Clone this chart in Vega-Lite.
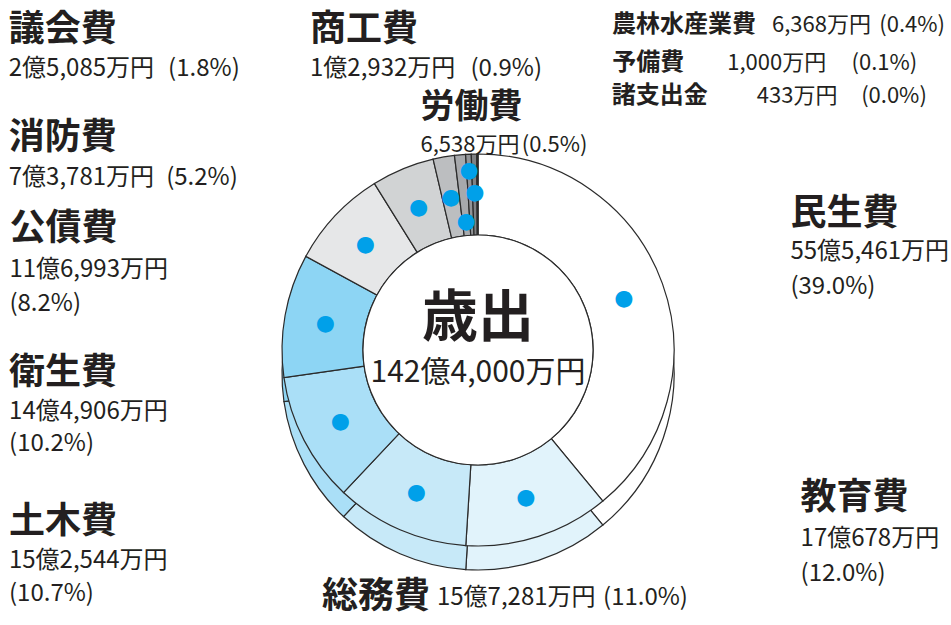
{
  "$schema": "https://vega.github.io/schema/vega-lite/v6.json",
  "width": 946,
  "height": 550,
  "autosize": {"type": "none"},
  "padding": {"left": 5, "top": 75, "right": 0, "bottom": 0},
  "background": "#ffffff",
  "config": {"view": {"stroke": null}, "text": {"font": "Noto Sans CJK JP", "color": "#231f20"}},
  "data": {"values": [
    {"idx": 1, "name": "民生費", "value": 555461, "amount": "55億5,461万円", "pct": "(39.0%)"},
    {"idx": 2, "name": "教育費", "value": 170678, "amount": "17億678万円", "pct": "(12.0%)"},
    {"idx": 3, "name": "総務費", "value": 157281, "amount": "15億7,281万円", "pct": "(11.0%)"},
    {"idx": 4, "name": "土木費", "value": 152544, "amount": "15億2,544万円", "pct": "(10.7%)"},
    {"idx": 5, "name": "衛生費", "value": 144906, "amount": "14億4,906万円", "pct": "(10.2%)"},
    {"idx": 6, "name": "公債費", "value": 116993, "amount": "11億6,993万円", "pct": "(8.2%)"},
    {"idx": 7, "name": "消防費", "value": 73781, "amount": "7億3,781万円", "pct": "(5.2%)"},
    {"idx": 8, "name": "議会費", "value": 25085, "amount": "2億5,085万円", "pct": "(1.8%)"},
    {"idx": 9, "name": "商工費", "value": 12932, "amount": "1億2,932万円", "pct": "(0.9%)"},
    {"idx": 10, "name": "労働費", "value": 6538, "amount": "6,538万円", "pct": "(0.5%)"},
    {"idx": 11, "name": "農林水産業費", "value": 6368, "amount": "6,368万円", "pct": "(0.4%)"},
    {"idx": 12, "name": "予備費", "value": 1000, "amount": "1,000万円", "pct": "(0.1%)"},
    {"idx": 13, "name": "諸支出金", "value": 433, "amount": "433万円", "pct": "(0.0%)"}
  ]},
  "encoding": {
    "theta": {"field": "value", "type": "quantitative", "stack": true},
    "order": {"field": "idx", "type": "quantitative"}
  },
  "layer": [
    {"mark": {"type": "arc", "outerRadius": 196, "innerRadius": 115, "yOffset": 24, "stroke": "#2b2b2b", "strokeWidth": 1.2},
     "encoding": {"color": {"field": "name", "type": "nominal", "legend": null,
       "scale": {"domain": ["民生費","教育費","総務費","土木費","衛生費","公債費","消防費","議会費","商工費","労働費","農林水産業費","予備費","諸支出金"],
                 "range": ["#ffffff","#e1f3fb","#c7e9f8","#aadff7","#8dd5f4","#e6e7e8","#d1d3d4","#bcbec0","#a7a9ac","#939598","#808285","#6d6e71","#58595b"]}}}},
    {"mark": {"type": "arc", "outerRadius": 196, "innerRadius": 115, "stroke": "#2b2b2b", "strokeWidth": 1.2},
     "encoding": {"color": {"field": "name", "type": "nominal", "legend": null}}},
    {"transform": [{"aggregate": [{"op": "sum", "field": "value", "as": "value"}, {"op": "min", "field": "idx", "as": "idx"}]}],
     "mark": {"type": "arc", "outerRadius": 115, "innerRadius": 0, "fill": "#ffffff", "stroke": "#2b2b2b", "strokeWidth": 1.2}},

    {"mark": {"type": "text", "radius": 155, "align": "center", "baseline": "middle", "font": "DejaVu Sans", "fontSize": 22, "color": "#00a0e9"},
     "encoding": {"text": {"condition": {"test": "datum.idx <= 8", "value": "●"}, "value": ""}}},
    {"mark": {"type": "text", "radius": 130, "align": "center", "baseline": "middle", "font": "DejaVu Sans", "fontSize": 22, "color": "#00a0e9"},
     "encoding": {"text": {"condition": {"test": "datum.idx === 9", "value": "●"}, "value": ""}}},
    {"mark": {"type": "text", "radius": 180, "align": "center", "baseline": "middle", "font": "DejaVu Sans", "fontSize": 22, "color": "#00a0e9"},
     "encoding": {"text": {"condition": {"test": "datum.idx === 10", "value": "●"}, "value": ""}}},
    {"mark": {"type": "text", "radius": 158, "align": "center", "baseline": "middle", "font": "DejaVu Sans", "fontSize": 22, "color": "#00a0e9"},
     "encoding": {"text": {"condition": {"test": "datum.idx === 11", "value": "●"}, "value": ""}}},

    {"mark": {"type": "text", "radius": 0, "dy": -31, "align": "center", "baseline": "middle", "fontSize": 56, "fontWeight": "bold"},
     "encoding": {"text": {"condition": {"test": "datum.idx === 1", "value": "歳出"}, "value": ""}}},
    {"mark": {"type": "text", "radius": 0, "dy": 23, "align": "center", "baseline": "middle", "fontSize": 30},
     "encoding": {"text": {"condition": {"test": "datum.idx === 1", "value": "142億4,000万円"}, "value": ""}}},

    {"mark": {"type": "text", "radius": 196, "dx": 128, "dy": -70, "align": "left", "baseline": "middle", "fontSize": 36, "fontWeight": "bold"},
     "encoding": {"text": {"condition": {"test": "datum.idx === 1", "field": "name"}, "value": ""}}},
    {"mark": {"type": "text", "radius": 196, "dx": 128, "dy": -32, "align": "left", "baseline": "middle", "fontSize": 24},
     "encoding": {"text": {"condition": {"test": "datum.idx === 1", "field": "amount"}, "value": ""}}},
    {"mark": {"type": "text", "radius": 196, "dx": 128, "dy": 3, "align": "left", "baseline": "middle", "fontSize": 24},
     "encoding": {"text": {"condition": {"test": "datum.idx === 1", "field": "pct"}, "value": ""}}},

    {"mark": {"type": "text", "radius": 196, "dx": 262, "dy": -38, "align": "left", "baseline": "middle", "fontSize": 36, "fontWeight": "bold"},
     "encoding": {"text": {"condition": {"test": "datum.idx === 2", "field": "name"}, "value": ""}}},
    {"mark": {"type": "text", "radius": 196, "dx": 262, "dy": 3, "align": "left", "baseline": "middle", "fontSize": 24},
     "encoding": {"text": {"condition": {"test": "datum.idx === 2", "field": "amount"}, "value": ""}}},
    {"mark": {"type": "text", "radius": 196, "dx": 262, "dy": 38, "align": "left", "baseline": "middle", "fontSize": 24},
     "encoding": {"text": {"condition": {"test": "datum.idx === 2", "field": "pct"}, "value": ""}}},

    {"mark": {"type": "text", "radius": 196, "dx": -78, "dy": 67, "align": "left", "baseline": "middle", "fontSize": 36, "fontWeight": "bold"},
     "encoding": {"text": {"condition": {"test": "datum.idx === 3", "field": "name"}, "value": ""}}},
    {"mark": {"type": "text", "radius": 196, "dx": 37, "dy": 68, "align": "left", "baseline": "middle", "fontSize": 24},
     "encoding": {"text": {"condition": {"test": "datum.idx === 3", "field": "amount"}, "value": ""}}},
    {"mark": {"type": "text", "radius": 196, "dx": 288, "dy": 68, "align": "right", "baseline": "middle", "fontSize": 24},
     "encoding": {"text": {"condition": {"test": "datum.idx === 3", "field": "pct"}, "value": ""}}},

    {"mark": {"type": "text", "radius": 196, "dx": -295, "dy": 82, "align": "left", "baseline": "middle", "fontSize": 36, "fontWeight": "bold"},
     "encoding": {"text": {"condition": {"test": "datum.idx === 4", "field": "name"}, "value": ""}}},
    {"mark": {"type": "text", "radius": 196, "dx": -295, "dy": 121, "align": "left", "baseline": "middle", "fontSize": 24},
     "encoding": {"text": {"condition": {"test": "datum.idx === 4", "field": "amount"}, "value": ""}}},
    {"mark": {"type": "text", "radius": 196, "dx": -295, "dy": 154, "align": "left", "baseline": "middle", "fontSize": 24},
     "encoding": {"text": {"condition": {"test": "datum.idx === 4", "field": "pct"}, "value": ""}}},

    {"mark": {"type": "text", "radius": 196, "dx": -276, "dy": 58, "align": "left", "baseline": "middle", "fontSize": 36, "fontWeight": "bold"},
     "encoding": {"text": {"condition": {"test": "datum.idx === 5", "field": "name"}, "value": ""}}},
    {"mark": {"type": "text", "radius": 196, "dx": -276, "dy": 97, "align": "left", "baseline": "middle", "fontSize": 24},
     "encoding": {"text": {"condition": {"test": "datum.idx === 5", "field": "amount"}, "value": ""}}},
    {"mark": {"type": "text", "radius": 196, "dx": -276, "dy": 129, "align": "left", "baseline": "middle", "fontSize": 24},
     "encoding": {"text": {"condition": {"test": "datum.idx === 5", "field": "pct"}, "value": ""}}},

    {"mark": {"type": "text", "radius": 196, "dx": -326, "dy": 13, "align": "left", "baseline": "middle", "fontSize": 36, "fontWeight": "bold"},
     "encoding": {"text": {"condition": {"test": "datum.idx === 6", "field": "name"}, "value": ""}}},
    {"mark": {"type": "text", "radius": 196, "dx": -326, "dy": 54, "align": "left", "baseline": "middle", "fontSize": 24},
     "encoding": {"text": {"condition": {"test": "datum.idx === 6", "field": "amount"}, "value": ""}}},
    {"mark": {"type": "text", "radius": 196, "dx": -326, "dy": 88, "align": "left", "baseline": "middle", "fontSize": 24},
     "encoding": {"text": {"condition": {"test": "datum.idx === 6", "field": "pct"}, "value": ""}}},

    {"mark": {"type": "text", "radius": 196, "dx": -394, "dy": -31, "align": "left", "baseline": "middle", "fontSize": 36, "fontWeight": "bold"},
     "encoding": {"text": {"condition": {"test": "datum.idx === 7", "field": "name"}, "value": ""}}},
    {"mark": {"type": "text", "radius": 196, "dx": -394, "dy": 9, "align": "left", "baseline": "middle", "fontSize": 24},
     "encoding": {"text": {"condition": {"test": "datum.idx === 7", "field": "amount"}, "value": ""}}},
    {"mark": {"type": "text", "radius": 196, "dx": -165, "dy": 9, "align": "right", "baseline": "middle", "fontSize": 24},
     "encoding": {"text": {"condition": {"test": "datum.idx === 7", "field": "pct"}, "value": ""}}},

    {"mark": {"type": "text", "radius": 196, "dx": -435, "dy": -127, "align": "left", "baseline": "middle", "fontSize": 36, "fontWeight": "bold"},
     "encoding": {"text": {"condition": {"test": "datum.idx === 8", "field": "name"}, "value": ""}}},
    {"mark": {"type": "text", "radius": 196, "dx": -435, "dy": -88, "align": "left", "baseline": "middle", "fontSize": 24},
     "encoding": {"text": {"condition": {"test": "datum.idx === 8", "field": "amount"}, "value": ""}}},
    {"mark": {"type": "text", "radius": 196, "dx": -204, "dy": -88, "align": "right", "baseline": "middle", "fontSize": 24},
     "encoding": {"text": {"condition": {"test": "datum.idx === 8", "field": "pct"}, "value": ""}}},

    {"mark": {"type": "text", "radius": 196, "dx": -150, "dy": -125, "align": "left", "baseline": "middle", "fontSize": 36, "fontWeight": "bold"},
     "encoding": {"text": {"condition": {"test": "datum.idx === 9", "field": "name"}, "value": ""}}},
    {"mark": {"type": "text", "radius": 196, "dx": -150, "dy": -86, "align": "left", "baseline": "middle", "fontSize": 24},
     "encoding": {"text": {"condition": {"test": "datum.idx === 9", "field": "amount"}, "value": ""}}},
    {"mark": {"type": "text", "radius": 196, "dx": 82, "dy": -86, "align": "right", "baseline": "middle", "fontSize": 24},
     "encoding": {"text": {"condition": {"test": "datum.idx === 9", "field": "pct"}, "value": ""}}},

    {"mark": {"type": "text", "radius": 196, "dx": -48, "dy": -46, "align": "left", "baseline": "middle", "fontSize": 34, "fontWeight": "bold"},
     "encoding": {"text": {"condition": {"test": "datum.idx === 10", "field": "name"}, "value": ""}}},
    {"mark": {"type": "text", "radius": 196, "dx": -48, "dy": -9, "align": "left", "baseline": "middle", "fontSize": 22},
     "encoding": {"text": {"condition": {"test": "datum.idx === 10", "field": "amount"}, "value": ""}}},
    {"mark": {"type": "text", "radius": 196, "dx": 119, "dy": -9, "align": "right", "baseline": "middle", "fontSize": 22},
     "encoding": {"text": {"condition": {"test": "datum.idx === 10", "field": "pct"}, "value": ""}}},

    {"mark": {"type": "text", "radius": 196, "dx": 138, "dy": -129, "align": "left", "baseline": "middle", "fontSize": 24, "fontWeight": "bold"},
     "encoding": {"text": {"condition": {"test": "datum.idx === 11", "field": "name"}, "value": ""}}},
    {"mark": {"type": "text", "radius": 196, "dx": 298, "dy": -129, "align": "left", "baseline": "middle", "fontSize": 22},
     "encoding": {"text": {"condition": {"test": "datum.idx === 11", "field": "amount"}, "value": ""}}},
    {"mark": {"type": "text", "radius": 196, "dx": 471, "dy": -129, "align": "right", "baseline": "middle", "fontSize": 22},
     "encoding": {"text": {"condition": {"test": "datum.idx === 11", "field": "pct"}, "value": ""}}},

    {"mark": {"type": "text", "radius": 196, "dx": 135, "dy": -91, "align": "left", "baseline": "middle", "fontSize": 24, "fontWeight": "bold"},
     "encoding": {"text": {"condition": {"test": "datum.idx === 12", "field": "name"}, "value": ""}}},
    {"mark": {"type": "text", "radius": 196, "dx": 250, "dy": -91, "align": "left", "baseline": "middle", "fontSize": 22},
     "encoding": {"text": {"condition": {"test": "datum.idx === 12", "field": "amount"}, "value": ""}}},
    {"mark": {"type": "text", "radius": 196, "dx": 440, "dy": -91, "align": "right", "baseline": "middle", "fontSize": 22},
     "encoding": {"text": {"condition": {"test": "datum.idx === 12", "field": "pct"}, "value": ""}}},

    {"mark": {"type": "text", "radius": 196, "dx": 134, "dy": -58, "align": "left", "baseline": "middle", "fontSize": 24, "fontWeight": "bold"},
     "encoding": {"text": {"condition": {"test": "datum.idx === 13", "field": "name"}, "value": ""}}},
    {"mark": {"type": "text", "radius": 196, "dx": 279, "dy": -58, "align": "left", "baseline": "middle", "fontSize": 22},
     "encoding": {"text": {"condition": {"test": "datum.idx === 13", "field": "amount"}, "value": ""}}},
    {"mark": {"type": "text", "radius": 196, "dx": 449, "dy": -58, "align": "right", "baseline": "middle", "fontSize": 22},
     "encoding": {"text": {"condition": {"test": "datum.idx === 13", "field": "pct"}, "value": ""}}}
  ]
}
